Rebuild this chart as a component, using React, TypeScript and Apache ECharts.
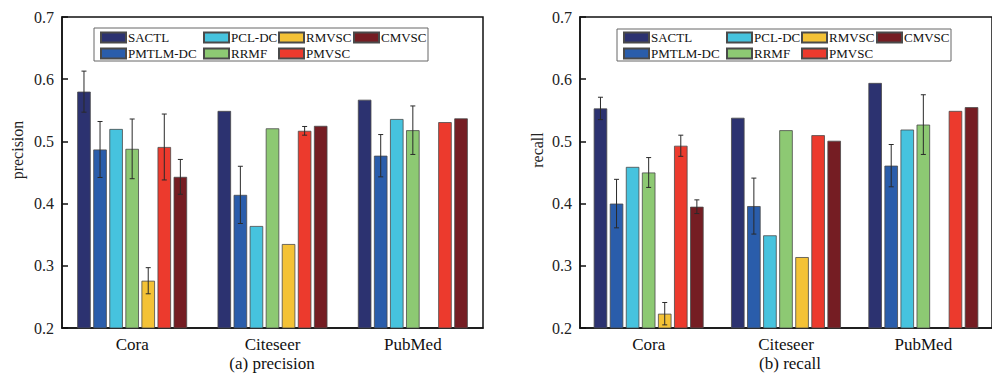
import React, { useEffect, useRef } from "react";
import * as echarts from "echarts";

const categories = ["Cora", "Citeseer", "PubMed"];
const methods = ["SACTL", "PMTLM-DC", "PCL-DC", "RRMF", "RMVSC", "PMVSC", "CMVSC"];
const colors = ["#2C3270", "#2A5DAB", "#46C3DE", "#8DC973", "#F4C236", "#EC3A2D", "#751D23"];

// precision (Cora, Citeseer, PubMed)
const precisionSACTL = [0.58, 0.549, 0.567];
const precisionPMTLM = [0.487, 0.414, 0.477];
const precisionPCL = [0.52, 0.364, 0.536];
const precisionRRMF = [0.488, 0.521, 0.518];
const precisionRMVSC = [0.276, 0.335, null];
const precisionPMVSC = [0.491, 0.517, 0.531];
const precisionCMVSC = [0.443, 0.525, 0.537];

const precisionErrSACTL = [0.033, 0, 0];
const precisionErrPMTLM = [0.045, 0.046, 0.034];
const precisionErrPCL = [0, 0, 0];
const precisionErrRRMF = [0.048, 0, 0.039];
const precisionErrRMVSC = [0.021, 0, 0];
const precisionErrPMVSC = [0.053, 0.007, 0];
const precisionErrCMVSC = [0.028, 0, 0];

// recall (Cora, Citeseer, PubMed)
const recallSACTL = [0.553, 0.538, 0.594];
const recallPMTLM = [0.4, 0.396, 0.461];
const recallPCL = [0.459, 0.349, 0.519];
const recallRRMF = [0.45, 0.518, 0.527];
const recallRMVSC = [0.223, 0.314, null];
const recallPMVSC = [0.493, 0.51, 0.549];
const recallCMVSC = [0.395, 0.501, 0.555];

const recallErrSACTL = [0.018, 0, 0];
const recallErrPMTLM = [0.039, 0.045, 0.034];
const recallErrPCL = [0, 0, 0];
const recallErrRRMF = [0.024, 0, 0.048];
const recallErrRMVSC = [0.018, 0, 0];
const recallErrPMVSC = [0.017, 0, 0];
const recallErrCMVSC = [0.011, 0, 0];

const precisionValues = [precisionSACTL, precisionPMTLM, precisionPCL, precisionRRMF, precisionRMVSC, precisionPMVSC, precisionCMVSC];
const precisionErrors = [precisionErrSACTL, precisionErrPMTLM, precisionErrPCL, precisionErrRRMF, precisionErrRMVSC, precisionErrPMVSC, precisionErrCMVSC];
const recallValues = [recallSACTL, recallPMTLM, recallPCL, recallRRMF, recallRMVSC, recallPMVSC, recallCMVSC];
const recallErrors = [recallErrSACTL, recallErrPMTLM, recallErrPCL, recallErrRRMF, recallErrRMVSC, recallErrPMVSC, recallErrCMVSC];

const FONT = "Liberation Serif, Times New Roman, serif";
const BAR_W = 13.5;
const BAR_GAP = 0.19;
const SLOT = BAR_W * (1 + BAR_GAP);

function errorSeries(values: (number | null)[][], errors: number[][], gi: number) {
  const data: number[][] = [];
  values.forEach((arr, m) => {
    arr.forEach((v, c) => {
      const e = errors[m][c];
      if (v != null && e > 0) data.push([c, v, e, m]);
    });
  });
  return {
    type: "custom",
    name: "err" + gi,
    xAxisIndex: gi,
    yAxisIndex: gi,
    z: 5,
    silent: true,
    encode: { x: 0, y: 1 },
    data,
    renderItem: (params: any, api: any) => {
      const c = api.value(0);
      const v = api.value(1);
      const e = api.value(2);
      const m = api.value(3);
      const top = api.coord([c, v + e]);
      const bot = api.coord([c, v - e]);
      const x = top[0] + (m - 3) * SLOT;
      const style = { stroke: "#2a2a2a", lineWidth: 1 };
      const cap = 2.5;
      return {
        type: "group",
        children: [
          { type: "line", shape: { x1: x, y1: top[1], x2: x, y2: bot[1] }, style },
          { type: "line", shape: { x1: x - cap, y1: top[1], x2: x + cap, y2: top[1] }, style },
          { type: "line", shape: { x1: x - cap, y1: bot[1], x2: x + cap, y2: bot[1] }, style },
        ],
      };
    },
  };
}

function barSeries(values: (number | null)[][], gi: number) {
  return methods.map((name, m) => ({
    type: "bar",
    name,
    xAxisIndex: gi,
    yAxisIndex: gi,
    barWidth: BAR_W,
    barGap: BAR_GAP * 100 + "%",
    data: values[m].map((v) => (v == null ? "-" : v)),
    itemStyle: { color: colors[m], borderColor: "#4a4a4a", borderWidth: 0.8 },
  }));
}

function legends(offsetX: number, top: number) {
  const cols = [
    ["SACTL", "PMTLM-DC"],
    ["PCL-DC", "RRMF"],
    ["RMVSC", "PMVSC"],
    ["CMVSC"],
  ];
  const xs = [100, 203, 278, 353];
  return cols.map((names, i) => ({
    data: names,
    orient: "vertical",
    left: xs[i] + offsetX,
    top,
    padding: 0,
    itemWidth: 25,
    itemHeight: 10,
    itemGap: 3,
    selectedMode: false,
    icon: "rect",
    textStyle: { fontFamily: FONT, fontSize: 13, color: "#111", padding: [0, 0, 0, -3], lineHeight: 12 },
  }));
}

export default function App() {
  const ref = useRef<HTMLDivElement>(null);
  useEffect(() => {
    if (!ref.current) return;
    const chart = echarts.init(ref.current, null, { renderer: "svg" });
    const axisY = (gi: number) => ({
      type: "value",
      gridIndex: gi,
      min: 0.2,
      max: 0.7,
      interval: 0.1,
      axisLine: { show: true, lineStyle: { color: "#111", width: 1.5 } },
      axisTick: { show: true, inside: true, length: 6, lineStyle: { color: "#111", width: 1.5 } },
      axisLabel: {
        fontFamily: FONT,
        fontSize: 16,
        color: "#222",
        margin: 8,
        formatter: (v: number) => v.toFixed(1),
      },
      splitLine: { show: false },
    });
    const axisX = (gi: number) => ({
      type: "category",
      gridIndex: gi,
      data: categories,
      axisLine: { show: true, lineStyle: { color: "#111", width: 1.5 } },
      axisTick: { show: false },
      axisLabel: { fontFamily: FONT, fontSize: 17, color: "#111", margin: 8 },
    });
    chart.setOption({
      animation: false,
      backgroundColor: "#fff",
      grid: [
        { left: 62, width: 421, top: 17, height: 311, show: true, borderColor: "#111", borderWidth: 1.5, backgroundColor: "transparent" },
        { left: 580, width: 421, top: 17, height: 311, show: true, borderColor: "#111", borderWidth: 1.5, backgroundColor: "transparent" },
      ],
      xAxis: [axisX(0), axisX(1)],
      yAxis: [axisY(0), axisY(1)],
      legend: [...legends(0, 31), ...legends(523, 31)],
      graphic: [
        { type: "rect", shape: { x: 94, y: 28, width: 334, height: 33 }, style: { fill: "none", stroke: "#666", lineWidth: 1 }, z: 10 },
        { type: "rect", shape: { x: 617, y: 29, width: 334, height: 32 }, style: { fill: "none", stroke: "#666", lineWidth: 1 }, z: 10 },
        { type: "text", x: 17, y: 150, rotation: Math.PI / 2, style: { text: "precision", fontFamily: FONT, fontSize: 16, fill: "#222", align: "center", verticalAlign: "middle" } },
        { type: "text", x: 537, y: 150, rotation: Math.PI / 2, style: { text: "recall", fontFamily: FONT, fontSize: 16, fill: "#222", align: "center", verticalAlign: "middle" } },
        { type: "text", x: 272, y: 363, style: { text: "(a) precision", fontFamily: FONT, fontSize: 17, fill: "#111", align: "center", verticalAlign: "middle" } },
        { type: "text", x: 790, y: 363, style: { text: "(b) recall", fontFamily: FONT, fontSize: 17, fill: "#111", align: "center", verticalAlign: "middle" } },
      ],
      series: [
        ...barSeries(precisionValues, 0),
        ...barSeries(recallValues, 1),
        errorSeries(precisionValues, precisionErrors, 0),
        errorSeries(recallValues, recallErrors, 1),
      ],
    });
    return () => chart.dispose();
  }, []);
  return (
    <div
      ref={ref}
      style={{ position: "fixed", left: 0, top: 0, width: 992, height: 377, background: "#fff" }}
    />
  );
}
